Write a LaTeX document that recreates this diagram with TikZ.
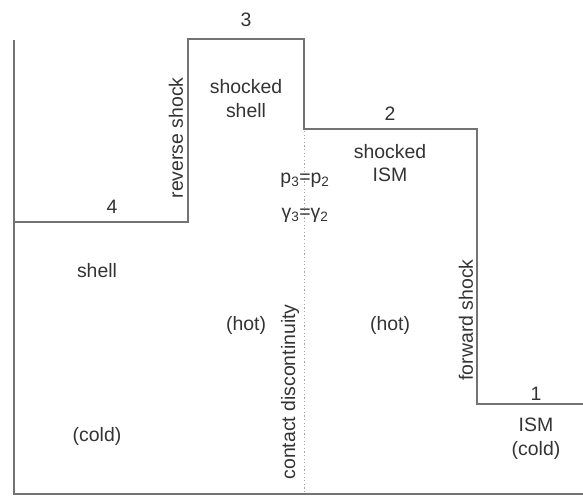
\documentclass[tikz,border=0pt]{standalone}
\usepackage{fontspec}
\setmainfont{Liberation Sans}
\begin{document}
\begin{tikzpicture}[x=1bp,y=-1bp,
  lbl/.style={inner sep=0pt,text=black!80,font=\fontsize{19.5}{21}\selectfont},
  vlbl/.style={lbl,rotate=90},
  profile/.style={draw=black!55,line width=1.6bp},
  contact/.style={draw=black!35,line width=1bp,dash pattern=on 1.2bp off 2.4bp}]
  \useasboundingbox (0,0) rectangle (583,496);
  % axes
  \draw[profile] (14,40) -- (14,494) -- (583,494);
  % pressure profile: regions 4, 3, 2, 1
  \draw[profile] (14,222) -- (188,222) -- (188,39) -- (304,39) -- (304,129)
    -- (477,129) -- (477,404) -- (583,404);
  % contact discontinuity
  \draw[contact] (304,131) -- (304,494);
  % region numbers
  \node[lbl] (n3) at (246,20) {3};
  \node[lbl] (n2) at (390,114) {2};
  \node[lbl] (n4) at (112,207) {4};
  \node[lbl] (n1) at (536,394) {1};
  % region descriptions
  \node[lbl] (s3a) at (246,87) {shocked};
  \node[lbl] (s3b) at (246,111) {shell};
  \node[lbl] (s2a) at (390,152) {shocked};
  \node[lbl] (s2b) at (390,175) {ISM};
  \node[lbl] (s4) at (97,271) {shell};
  \node[lbl] (c4) at (97,436) {(cold)};
  \node[lbl] (h3) at (246,325) {(hot)};
  \node[lbl] (h2) at (390,325) {(hot)};
  \node[lbl] (s1) at (536,425) {ISM};
  \node[lbl] (c1) at (536,450) {(cold)};
  % jump conditions at the contact
  \node[lbl] (pp) at (305,180) {p\textsubscript{3}=p\textsubscript{2}};
  \node[lbl] (gg) at (305,215) {γ\textsubscript{3}=γ\textsubscript{2}};
  % discontinuities
  \node[vlbl] (rs) at (176,138) {reverse shock};
  \node[vlbl] (fs) at (466,320) {forward shock};
  \node[vlbl] (cd) at (290,392) {contact discontinuity};
\end{tikzpicture}
\end{document}
